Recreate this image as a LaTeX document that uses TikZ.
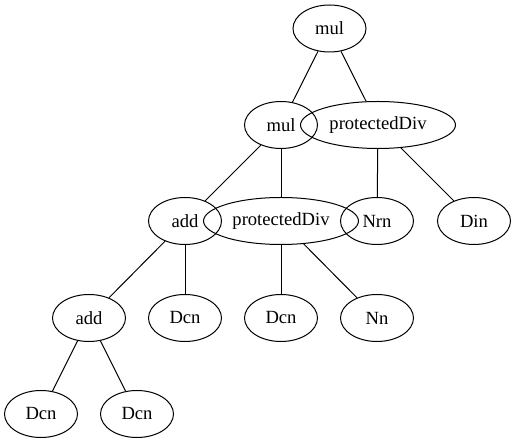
\documentclass[tikz,border=0pt]{standalone}
\usepackage{fontspec}
\setmainfont{Liberation Serif}
\usetikzlibrary{shapes.geometric}

\begin{document}
\begin{tikzpicture}[x=1pt,y=-1pt,line width=1pt]
  \tikzstyle{op}=[ellipse,draw,inner sep=0pt,minimum width=73pt,minimum height=47pt,font=\fontsize{18.6}{20}\selectfont]
  \tikzstyle{div}=[op,minimum width=155pt]
  \useasboundingbox (0,0) rectangle (515,443);
  \node(mul-a) at (329.5,28.5)[op]{mul};
  \node(mul-b) at (281,125)[op]{mul};
  \node(div-a) at (378,125)[div]{protectedDiv};
  \node(add-a) at (185,221)[op]{add};
  \node(div-b) at (281,221)[div]{protectedDiv};
  \node(nrn) at (377,221)[op]{Nrn};
  \node(din) at (474,221)[op]{Din};
  \node(add-b) at (89,318)[op]{add};
  \node(dcn-a) at (185,318)[op]{Dcn};
  \node(dcn-b) at (281,318)[op]{Dcn};
  \node(nn) at (377,318)[op]{Nn};
  \node(dcn-c) at (41,414)[op]{Dcn};
  \node(dcn-d) at (137,414)[op]{Dcn};
  \draw(mul-a)--(mul-b);
  \draw(mul-a)--(div-a);
  \draw(mul-b)--(add-a);
  \draw(mul-b)--(div-b);
  \draw(div-a)--(nrn);
  \draw(div-a)--(din);
  \draw(add-a)--(add-b);
  \draw(add-a)--(dcn-a);
  \draw(div-b)--(dcn-b);
  \draw(div-b)--(nn);
  \draw(add-b)--(dcn-c);
  \draw(add-b)--(dcn-d);
\end{tikzpicture}
\end{document}
